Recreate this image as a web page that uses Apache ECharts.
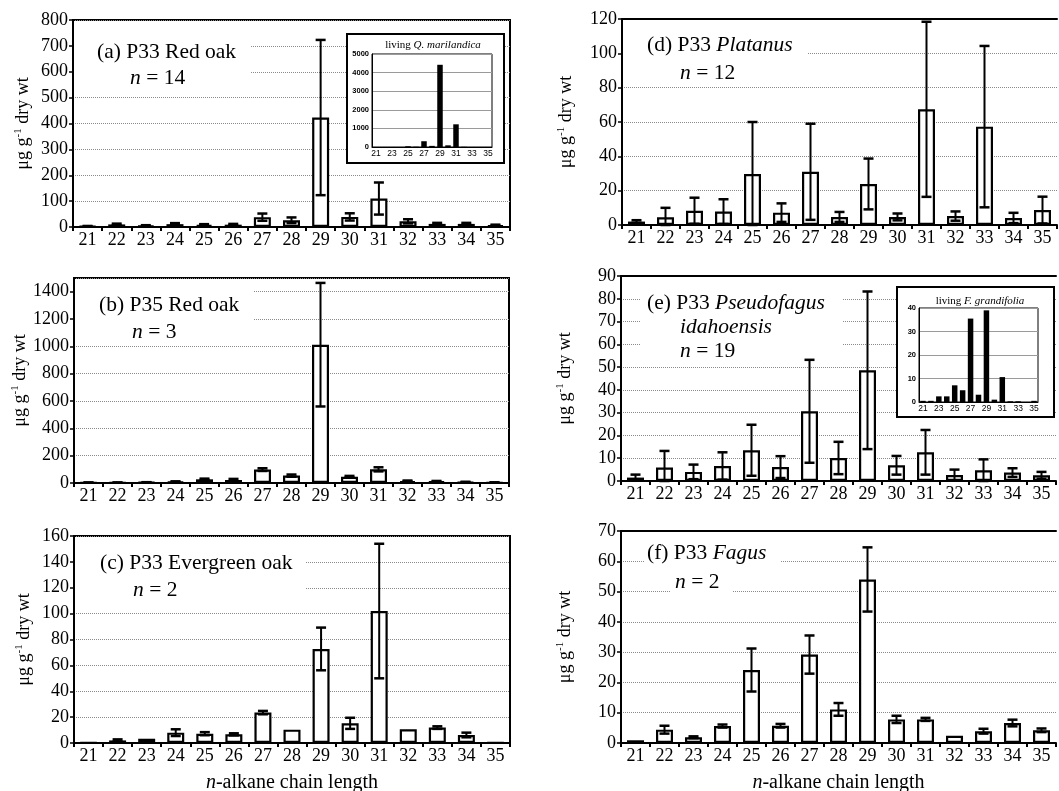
<!DOCTYPE html>
<html><head><meta charset="utf-8">
<script src="https://cdn.jsdelivr.net/npm/echarts@6/dist/echarts.min.js"></script>
<style>html,body{margin:0;padding:0;background:#fff}#c{width:1059px;height:791px}</style>
</head><body><div id="c"></div>
<script>
// ---------------- DATA ----------------
const categories = ['21','22','23','24','25','26','27','28','29','30','31','32','33','34','35'];

const redOakP33Mean = [3, 10, 5, 11, 8, 9, 38, 26, 423, 39, 110, 22, 12, 12, 7];
const redOakP33Err  = [1, 3, 2, 4, 3, 3, 14, 11, 300, 14, 62, 8, 4, 4, 2];

const redOakP35Mean = [3, 3, 5, 10, 27, 22, 98, 54, 1012, 46, 100, 15, 12, 7, 4];
const redOakP35Err  = [1, 1, 1, 2, 5, 8, 10, 8, 452, 6, 15, 3, 3, 2, 1];

const evergreenMean = [0.3, 2, 3.3, 8, 7.2, 6.7, 23.5, 10.3, 72.7, 15.2, 102, 10.6, 11.9, 6.2, 0.3];
const evergreenErr  = [0, 0.8, 0, 2.6, 1.2, 0.8, 1.3, 0, 16.5, 4.3, 52, 0, 1, 1.8, 0];

const platanusMean = [2, 4.5, 8.3, 7.8, 29.7, 7.2, 31, 4.7, 23.9, 4.7, 67.4, 5.2, 57.3, 4.1, 8.7];
const platanusErr  = [0.8, 5.5, 7.6, 7.2, 30.3, 5.4, 28, 2.9, 14.8, 2, 51, 2.7, 47, 3, 7.8];

const pseudofagusMean = [1.5, 5.9, 4, 6.6, 13.5, 6.1, 30.6, 10.1, 48.6, 6.9, 12.6, 2.6, 4.7, 3.7, 2.5];
const pseudofagusErr  = [1.3, 7.3, 3.2, 6, 11.2, 4.8, 22.6, 7.1, 34.6, 4.1, 9.8, 2.4, 4.8, 1.9, 1.5];

const fagusMean = [0.9, 4.4, 1.9, 5.6, 24.1, 5.7, 29.2, 11.1, 54, 7.8, 7.8, 2.4, 3.9, 6.6, 4.2];
const fagusErr  = [0, 1.3, 0.3, 0.5, 7.1, 0.6, 6.3, 2.1, 10.6, 1.2, 0.5, 0, 0.8, 1.1, 0.6];

const livingQMarilandica = [0, 0, 0, 0, 40, 15, 310, 60, 4420, 90, 1220, 10, 0, 0, 0];
const livingFGrandifolia = [0.5, 0.5, 2.4, 2.4, 7.1, 5, 35.5, 3.1, 39, 1, 10.6, 0.3, 0.3, 0, 0.5];

const yAxisName = '{a|\u03bcg g}{s|-1}{a| dry wt}';
const xAxisName = '{i|n}{a|-alkane chain length}';

// ---------------- LAYOUT / STYLE ----------------
const SERIF = '"Liberation Serif","Times New Roman",Times,serif';
const SANS = '"Liberation Sans",Arial,Helvetica,sans-serif';

const panels = [
  {mean: redOakP33Mean, err: redOakP33Err, max: 800, interval: 100,
   left: 73, top: 20, width: 437, height: 207, side: 'left', xname: false,
   lines: [['{r|(a) P33 Red oak}', 97, 52], ['{i|n}{r| = 14}', 130, 78]],
   boxes: [[75, 35, 175, 50]]},
  {mean: redOakP35Mean, err: redOakP35Err, max: 1500, interval: 200,
   left: 74, top: 278, width: 435, height: 205, side: 'left', xname: false,
   lines: [['{r|(b) P35 Red oak}', 99, 305], ['{i|n}{r| = 3}', 132, 332]],
   boxes: [[76, 286, 177, 52]]},
  {mean: evergreenMean, err: evergreenErr, max: 160, interval: 20,
   left: 74, top: 536, width: 436, height: 207, side: 'left', xname: true,
   lines: [['{r|(c) P33 Evergreen oak}', 100, 563], ['{i|n}{r| = 2}', 133, 590]],
   boxes: [[76, 550, 229, 48]]},
  {mean: platanusMean, err: platanusErr, max: 120, interval: 20,
   left: 622, top: 19, width: 435, height: 206, side: 'right', xname: false,
   lines: [['{r|(d) P33 }{i|Platanus}', 647, 45], ['{i|n}{r| = 12}', 680, 73]],
   boxes: [[624, 34, 184, 26]]},
  {mean: pseudofagusMean, err: pseudofagusErr, max: 90, interval: 10,
   left: 621, top: 276, width: 435, height: 205, side: 'right', xname: false,
   lines: [['{r|(e) P33 }{i|Pseudofagus}', 647, 303], ['{i|idahoensis}', 680, 327], ['{i|n}{r| = 19}', 680, 351]],
   boxes: [[640, 288, 202, 68]]},
  {mean: fagusMean, err: fagusErr, max: 70, interval: 10,
   left: 621, top: 531, width: 435, height: 212, side: 'right', xname: true,
   lines: [['{r|(f) P33 }{i|Fagus}', 647, 553], ['{i|n}{r| = 2}', 675, 582]],
   boxes: [[645, 545, 135, 26], [670, 570, 62, 28]]}
];

const insets = [
  {data: livingQMarilandica, max: 5000, interval: 1000,
   outer: [347, 34, 157, 129], left: 372, top: 54, width: 120, height: 93,
   title: '{r|living }{i|Q. marilandica}', tx: 433, ty: 45},
  {data: livingFGrandifolia, max: 40, interval: 10,
   outer: [897, 287, 157, 130], left: 919, top: 308, width: 119, height: 94,
   title: '{r|living }{i|F. grandifolia}', tx: 980, ty: 301}
];

const richZ = {
  r: {fontFamily: SERIF, fontSize: 21.5, fill: '#000'},
  i: {fontFamily: SERIF, fontSize: 21.5, fontStyle: 'italic', fill: '#000'}
};
const richInsetZ = {
  r: {fontFamily: SERIF, fontSize: 11, fill: '#000'},
  i: {fontFamily: SERIF, fontSize: 11, fontStyle: 'italic', fill: '#000'}
};

const plain = v => String(v);

function errRender(params, api) {
  const idx = api.value(0), m = api.value(1), e = api.value(2);
  if (!(e > 0)) return null;
  const top = api.coord([idx, m + e]);
  const bot = api.coord([idx, Math.max(0, m - e)]);
  const cap = 5;
  return {
    type: 'group',
    children: [
      {type: 'line', shape: {x1: top[0], y1: top[1], x2: bot[0], y2: bot[1]}, style: {stroke: '#000', lineWidth: 2}},
      {type: 'line', shape: {x1: top[0] - cap, y1: top[1], x2: top[0] + cap, y2: top[1]}, style: {stroke: '#000', lineWidth: 2.5}},
      {type: 'line', shape: {x1: bot[0] - cap, y1: bot[1], x2: bot[0] + cap, y2: bot[1]}, style: {stroke: '#000', lineWidth: 2.5}}
    ]
  };
}

const grid = [], xAxis = [], yAxis = [], series = [], graphic = [];

panels.forEach((p, i) => {
  const gi = grid.length;
  grid.push({left: p.left, top: p.top, width: p.width, height: p.height,
    show: p.side === 'left', borderColor: '#000', borderWidth: 2, backgroundColor: 'transparent',
    outerBoundsMode: 'none', containLabel: false});
  const xi = xAxis.length;
  xAxis.push({
    type: 'category', gridIndex: gi, data: categories, position: 'bottom',
    axisLine: {show: true, lineStyle: {color: '#000', width: 2}},
    axisTick: {show: true, alignWithLabel: false, length: 4, inside: false, lineStyle: {color: '#000', width: 2}},
    axisLabel: {interval: 0, fontFamily: SERIF, fontSize: 18, color: '#000', margin: 4},
    splitLine: {show: false},
    name: p.xname ? xAxisName : '',
    nameLocation: 'middle', nameGap: 30,
    nameTextStyle: {color: '#000', rich: {
      a: {fontFamily: SERIF, fontSize: 20, color: '#000'},
      i: {fontFamily: SERIF, fontSize: 20, fontStyle: 'italic', color: '#000'}}}
  });
  if (p.side === 'right') {
    xAxis.push({
      type: 'category', gridIndex: gi, data: categories, position: 'top',
      axisLine: {show: true, lineStyle: {color: '#000', width: 2}},
      axisTick: {show: false}, axisLabel: {show: false}, splitLine: {show: false}
    });
  }
  const yi = yAxis.length;
  yAxis.push({
    type: 'value', gridIndex: gi, min: 0, max: p.max, interval: p.interval,
    axisLine: {show: true, lineStyle: {color: '#000', width: 2}},
    axisTick: {show: true, length: 4, lineStyle: {color: '#000', width: 1.5}},
    axisLabel: {fontFamily: SERIF, fontSize: 18, color: '#000', margin: 5, formatter: plain,
      showMaxLabel: p.max % p.interval === 0, showMinLabel: true},
    splitLine: {show: true, lineStyle: {color: '#8a8a8a', type: 'dotted', width: 1}},
    name: yAxisName, nameLocation: 'middle', nameRotate: 90,
    nameGap: p.side === 'left' ? 40 : 46,
    nameTextStyle: {color: '#000', rich: {
      a: {fontFamily: SERIF, fontSize: 18, color: '#000', lineHeight: 20},
      s: {fontFamily: SERIF, fontSize: 11, color: '#000', verticalAlign: 'top', lineHeight: 11}}}
  });
  series.push({
    type: 'bar', xAxisIndex: xi, yAxisIndex: yi, data: p.mean, barWidth: 17,
    itemStyle: {color: '#fff', borderColor: '#000', borderWidth: 2.2},
    silent: true, animation: false, z: 2
  });
  series.push({
    type: 'custom', xAxisIndex: xi, yAxisIndex: yi, renderItem: errRender,
    data: categories.map((c, j) => [j, p.mean[j], p.err[j]]),
    encode: {x: 0, y: 1}, clip: false, silent: true, animation: false, z: 3
  });
  p.boxes.forEach(b => graphic.push({type: 'rect', z: 5,
    shape: {x: b[0], y: b[1], width: b[2], height: b[3]}, style: {fill: '#fff'}}));
  p.lines.forEach(l => graphic.push({type: 'text', z: 6, x: l[1], y: l[2],
    style: {text: l[0], rich: richZ, align: 'left', verticalAlign: 'middle'}}));
});

insets.forEach(s => {
  graphic.push({type: 'rect', zlevel: 1, z: 1,
    shape: {x: s.outer[0], y: s.outer[1], width: s.outer[2], height: s.outer[3]},
    style: {fill: '#fff', stroke: '#000', lineWidth: 2}});
  graphic.push({type: 'text', zlevel: 1, z: 10, x: s.tx, y: s.ty,
    style: {text: s.title, rich: richInsetZ, align: 'center', verticalAlign: 'middle'}});
  const gi = grid.length;
  grid.push({left: s.left, top: s.top, width: s.width, height: s.height, show: true,
    borderColor: '#000', borderWidth: 1, backgroundColor: 'transparent', zlevel: 1, z: 2,
    outerBoundsMode: 'none', containLabel: false});
  const xi = xAxis.length;
  xAxis.push({type: 'category', gridIndex: gi, data: categories, zlevel: 1, z: 3,
    axisLine: {show: true, lineStyle: {color: '#000', width: 1}},
    axisTick: {show: false},
    axisLabel: {interval: 1, fontFamily: SANS, fontSize: 8.5, color: '#000', margin: 2},
    splitLine: {show: false}});
  const yi = yAxis.length;
  yAxis.push({type: 'value', gridIndex: gi, min: 0, max: s.max, interval: s.interval, zlevel: 1, z: 3,
    axisLine: {show: true, lineStyle: {color: '#000', width: 1}},
    axisTick: {show: false},
    axisLabel: {fontFamily: SANS, fontSize: 7.5, fontWeight: 'bold', color: '#000', margin: 3, formatter: plain},
    splitLine: {show: true, lineStyle: {color: '#9a9a9a', type: 'solid', width: 1}}});
  series.push({type: 'bar', xAxisIndex: xi, yAxisIndex: yi, data: s.data, barWidth: 5.5,
    itemStyle: {color: '#000'}, zlevel: 1, z: 4, silent: true, animation: false});
});

const chart = echarts.init(document.getElementById('c'), null, {renderer: 'canvas'});
chart.setOption({
  backgroundColor: '#fff',
  animation: false,
  grid, xAxis, yAxis, series,
  graphic: {elements: graphic}
});
</script>
</body></html>
